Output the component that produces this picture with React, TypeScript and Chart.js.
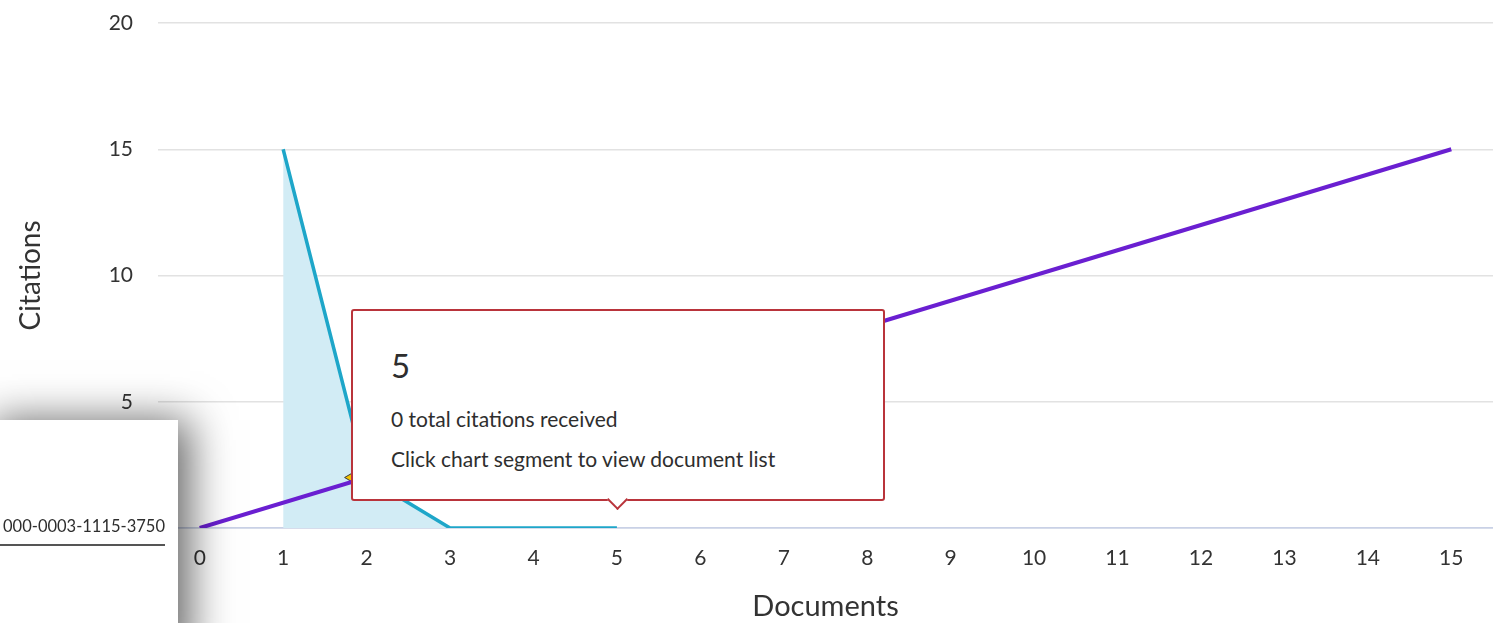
import React, { useEffect, useRef } from "react";
import { Chart, registerables } from "chart.js";

Chart.register(...registerables);

// ---- data ----
const docRanks = [1, 2, 3, 4, 5];
const docCitations = [15, 2, 0, 0, 0];
const hLineX = [0, 15];
const hLineY = [0, 15];
const hIndexX = [2];
const hIndexY = [2];
const xTickValues = [0, 1, 2, 3, 4, 5, 6, 7, 8, 9, 10, 11, 12, 13, 14, 15];
const yTickStep = 5;
const xTitle = "Documents";
const yTitle = "Citations";
const tooltipTitle = "5";
const tooltipLines = ["0 total citations received", "Click chart segment to view document list"];
const orcidText = "000-0003-1115-3750";

const FONT = "Lato, 'Open Sans', sans-serif";
const CANVAS_W = 1516;

export default function App() {
  const canvasRef = useRef<HTMLCanvasElement | null>(null);

  useEffect(() => {
    const canvas = canvasRef.current;
    if (!canvas) return;
    const chart = new Chart(canvas, {
      type: "line",
      data: {
        datasets: [
          {
            label: "h-line",
            data: hLineX.map((x, i) => ({ x, y: hLineY[i] })),
            borderColor: "#6a1fd1",
            borderWidth: 4,
            pointRadius: 0,
            fill: false,
          },
          {
            label: "h-index",
            data: hIndexX.map((x, i) => ({ x, y: hIndexY[i] })),
            showLine: false,
            pointStyle: "triangle",
            rotation: -90,
            pointRadius: 22,
            backgroundColor: "#f2c200",
            borderColor: "#3a3a3a",
            borderWidth: 1,
          },
          {
            label: "Citations",
            data: docRanks.map((x, i) => ({ x, y: docCitations[i] })),
            borderColor: "#1ea6c9",
            backgroundColor: "#d2ecf5",
            borderWidth: 3.5,
            pointRadius: 0,
            fill: "origin",
            tension: 0,
          },
        ],
      },
      options: {
        responsive: false,
        animation: false,
        devicePixelRatio: 1,
        layout: { padding: { top: 22, left: 0, right: 0, bottom: 0 } },
        plugins: {
          legend: { display: false },
          tooltip: { enabled: false },
        },
        scales: {
          x: {
            type: "linear",
            min: -0.5,
            max: 15.5,
            afterBuildTicks: (axis: any) => {
              axis.ticks = xTickValues.map((v) => ({ value: v }));
            },
            afterFit: (axis: any) => {
              axis.height = 95;
              axis.paddingLeft = 0;
              axis.paddingRight = 0;
            },
            grid: { display: false, drawTicks: false },
            border: { display: true, color: "#c9d1e6", width: 1.5 },
            ticks: {
              padding: 18,
              color: "#333",
              font: { family: FONT, size: 21 },
              maxRotation: 0,
              autoSkip: false,
            },
            title: {
              display: true,
              text: xTitle,
              color: "#333",
              font: { family: FONT, size: 29, lineHeight: 1.1 },
              padding: 0,
            },
          },
          y: {
            type: "linear",
            min: 0,
            max: 20,
            afterFit: (axis: any) => {
              axis.width = 158;
              axis.paddingTop = 0;
              axis.paddingBottom = 0;
            },
            grid: {
              drawTicks: false,
              color: (ctx: any) => (ctx.tick && ctx.tick.value === 0 ? "#c9d1e6" : "#e2e2e2"),
              lineWidth: 1.5,
            },
            border: { display: false },
            ticks: {
              stepSize: yTickStep,
              padding: 25,
              color: "#333",
              font: { family: FONT, size: 21 },
            },
            title: {
              display: true,
              text: yTitle,
              color: "#333",
              font: { family: FONT, size: 28, lineHeight: 1.1 },
              padding: { top: 16, bottom: 0 },
            },
          },
        },
      },
    });
    return () => chart.destroy();
  }, []);

  return (
    <div
      style={{
        position: "absolute",
        left: 0,
        top: 0,
        width: 1493,
        height: 623,
        overflow: "hidden",
        background: "#fff",
        fontFamily: FONT,
      }}
    >
      <canvas ref={canvasRef} width={CANVAS_W} height={623} style={{ display: "block" }} />

      {/* tooltip */}
      <div
        style={{
          position: "absolute",
          left: 351,
          top: 309,
          width: 530,
          height: 188,
          border: "2px solid #b9343b",
          borderRadius: 3,
          background: "#fff",
          color: "#2e2e2e",
          boxSizing: "content-box",
        }}
      >
        <div style={{ position: "absolute", left: 38, top: 34, fontSize: 33, lineHeight: "40px" }}>{tooltipTitle}</div>
        <div style={{ position: "absolute", left: 38, top: 94, fontSize: 21, lineHeight: "28px", whiteSpace: "nowrap" }}>
          {tooltipLines[0]}
        </div>
        <div style={{ position: "absolute", left: 38, top: 134, fontSize: 21, lineHeight: "28px", whiteSpace: "nowrap" }}>
          {tooltipLines[1]}
        </div>
        <div
          style={{
            position: "absolute",
            left: 257,
            bottom: -8,
            width: 13,
            height: 13,
            background: "#fff",
            borderRight: "2px solid #b9343b",
            borderBottom: "2px solid #b9343b",
            transform: "rotate(45deg)",
          }}
        />
      </div>

      {/* left overlay panel */}
      <div
        style={{
          position: "absolute",
          left: -20,
          top: 420,
          width: 198,
          height: 240,
          background: "#fff",
          boxShadow: "12px 0px 40px rgba(0,0,0,0.6)",
        }}
      >
        <div
          style={{
            position: "absolute",
            right: 13,
            top: 95,
            fontSize: 16.5,
            color: "#2e2e2e",
            whiteSpace: "nowrap",
            lineHeight: "22px",
          }}
        >
          {orcidText}
        </div>
        <div style={{ position: "absolute", left: 0, width: 185, top: 124, height: 1.5, background: "#555" }} />
      </div>
    </div>
  );
}
